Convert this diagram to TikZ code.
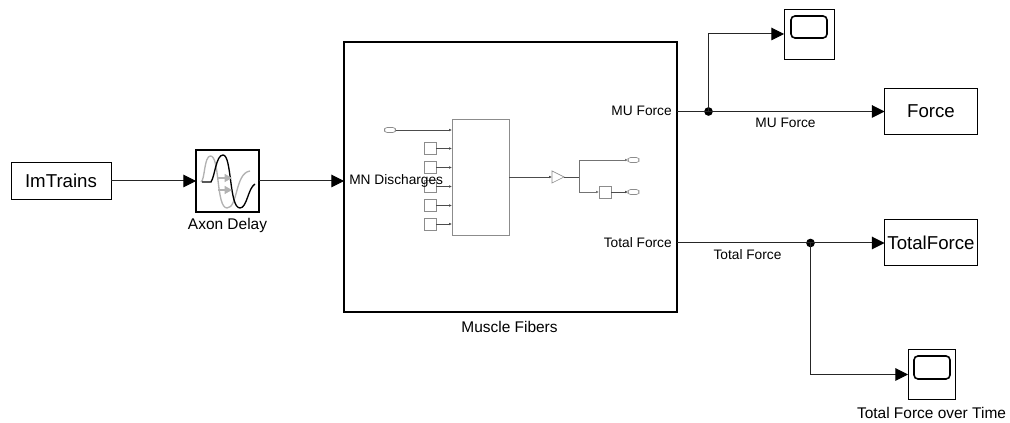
\documentclass[tikz,border=0pt]{standalone}
\usepackage{fontspec}
\setmainfont{Liberation Sans}
\usetikzlibrary{arrows.meta}
\newlength\px \setlength\px{0.75pt}
\tikzset{
  blockbox/.style={draw=black,line width=0.75pt,fill=white,inner sep=0pt,outer sep=0pt,font=\fontsize{14pt}{16pt}\selectfont},
  lbl/.style={inner sep=0pt,font=\fontsize{10.3pt}{12pt}\selectfont,text=black},
  namelbl/.style={inner sep=0pt,font=\fontsize{11.6pt}{14pt}\selectfont,text=black},
  conn/.style={draw=black!85,line width=0.75pt},
  arr/.style={conn,-{Triangle[length=9.5pt,width=9.5pt,color=black]}},
  dotj/.style={circle,fill=black,inner sep=0pt,minimum size=6.5pt,outer sep=0pt},
  scopebox/.style={draw=black,line width=0.7pt,fill=white,inner sep=0pt,outer sep=0pt},
  scopescreen/.style={draw=black,line width=1.2pt,rounded corners=3pt,inner sep=0pt,outer sep=0pt},
  tiny/.style={draw=black!45,line width=0.5pt,fill=white,inner sep=0pt,outer sep=0pt},
  pill/.style={draw=black!45,line width=0.5pt,fill=white,rounded corners=2pt,inner sep=0pt,outer sep=0pt,minimum width=11\px,minimum height=5\px},
  tconn/.style={draw=black!70,line width=0.5pt,-{Latex[length=2.2pt,width=2pt]}},
  gconn/.style={draw=black!55,line width=0.5pt},
}
\begin{document}
\begin{tikzpicture}[x=0.75pt,y=-0.75pt]
\useasboundingbox (0,0) rectangle (1010,423);
% main blocks
\node[blockbox,minimum width=100\px,minimum height=37\px] (imtrains) at (61,181) {ImTrains};
\node[blockbox,line width=0.85pt,minimum width=63\px,minimum height=62\px] (axon) at (227.5,181) {};
\node[blockbox,line width=1.1pt,minimum width=333\px,minimum height=270\px] (muscle) at (510.5,177) {};
\node[blockbox,minimum width=93\px,minimum height=46\px] (force) at (931,111.5) {Force};
\node[blockbox,minimum width=93\px,minimum height=46\px] (totalforce) at (931,243) {TotalForce};
\node[scopebox,minimum width=50\px,minimum height=50\px] (scopeA) at (809,34) {};
\node[scopescreen,minimum width=36\px,minimum height=22\px] (screenA) at (809,27) {};
\node[scopebox,minimum width=47\px,minimum height=50\px] (scopeB) at (931.5,374.5) {};
\node[scopescreen,minimum width=36\px,minimum height=23\px] (screenB) at (932,367.5) {};
% axon icon
\draw[black!30,line width=1pt] (201,182) .. controls (205,180) and (204,156) .. (210.5,156)
  .. controls (220,156) and (216,208) .. (227,208) .. controls (238,208) and (235,173) .. (250,171);
\draw[black,line width=1pt] (202,182) -- (211,182) .. controls (215,176) and (216,155) .. (223,155)
  .. controls (232,155) and (229,208) .. (240,208) .. controls (247,208) and (248,188) .. (255,184);
\coordinate (gA) at (218,178); \coordinate (gB) at (232,178);
\coordinate (gC) at (218,190); \coordinate (gD) at (232,190);
\draw[black!30,line width=0.8pt,-{Triangle[length=5.5pt,width=6pt]}] (gA) -- (gB);
\draw[black!30,line width=0.8pt,-{Triangle[length=5.5pt,width=6pt]}] (gC) -- (gD);
% port coordinates
\coordinate (mIn) at (344,181);
\coordinate (mMU) at (677,111.5);
\coordinate (mTot) at (677,243);
\node[dotj] (jA) at (708.5,111.5) {};
\node[dotj] (jB) at (810.5,243) {};
% connectors
\draw[arr] (imtrains.east) -- (axon.west);
\draw[arr] (axon.east) -- (mIn);
\draw[conn] (mMU) -- (jA.center);
\draw[arr] (jA.center) -- (force.west);
\draw[arr] (jA.center) |- (scopeA.west);
\draw[conn] (mTot) -- (jB.center);
\draw[arr] (jB.center) -- (totalforce.west);
\draw[arr] (jB.center) |- (scopeB.west);
% inner diagram
\node[tiny,minimum width=57\px,minimum height=116\px] (inner) at (480.5,177) {};
\node[pill] (pIn) at (390,130) {};
\node[tiny,minimum width=12\px,minimum height=12\px] (s1) at (430,148.5) {};
\node[tiny,minimum width=12\px,minimum height=12\px] (s2) at (430,167.5) {};
\node[tiny,minimum width=12\px,minimum height=12\px] (s3) at (430,186.5) {};
\node[tiny,minimum width=12\px,minimum height=12\px] (s4) at (430,205.5) {};
\node[tiny,minimum width=12\px,minimum height=12\px] (s5) at (430,224) {};
\coordinate (iIn) at (452,130);
\coordinate (i1) at (452,148.5);
\coordinate (i2) at (452,167.5);
\coordinate (i3) at (452,186.5);
\coordinate (i4) at (452,205.5);
\coordinate (i5) at (452,224);
\draw[tconn] (pIn.east) -- (iIn);
\draw[tconn] (s1.east) -- (i1);
\draw[tconn] (s2.east) -- (i2);
\draw[tconn] (s3.east) -- (i3);
\draw[tconn] (s4.east) -- (i4);
\draw[tconn] (s5.east) -- (i5);
\draw[tiny] (552,171) -- (564,177) -- (552,183) -- cycle;
\coordinate (gIn) at (552,177); \coordinate (gOut) at (564,177);
\draw[tconn] (inner.east |- gIn) -- (gIn);
\coordinate (fork) at (579.5,177);
\draw[draw=black!70,line width=0.5pt] (gOut) -- (fork);
\node[pill] (pOutA) at (633.5,160) {};
\node[pill] (pOutB) at (633.5,192) {};
\node[tiny,minimum width=12\px,minimum height=12\px] (sq) at (605,192) {};
\coordinate (fA) at (579.5,160); \coordinate (fB) at (579.5,192);
\draw[gconn,-{Latex[length=2.2pt,width=2pt]}] (fork) -- (fA) -- (pOutA.west);
\draw[gconn,-{Latex[length=2.2pt,width=2pt]}] (fork) -- (fB) -- (sq.west);
\draw[tconn] (sq.east) -- (pOutB.west);
% labels
\node[namelbl] (lAxon) at (227.5,225.5) {Axon Delay};
\node[namelbl] (lMuscle) at (509.5,326.5) {Muscle Fibers};
\node[lbl,anchor=west] (pMN) at (349,181) {MN Discharges};
\node[lbl,anchor=east] (pMU) at (672,111) {MU Force};
\node[lbl,anchor=east] (pTot) at (672,243) {Total Force};
\node[lbl] (lMU) at (785.5,123) {MU Force};
\node[lbl] (lTot) at (747.5,255) {Total Force};
\node[namelbl] (lScope) at (931.5,412.5) {Total Force over Time};
\end{tikzpicture}
\end{document}
